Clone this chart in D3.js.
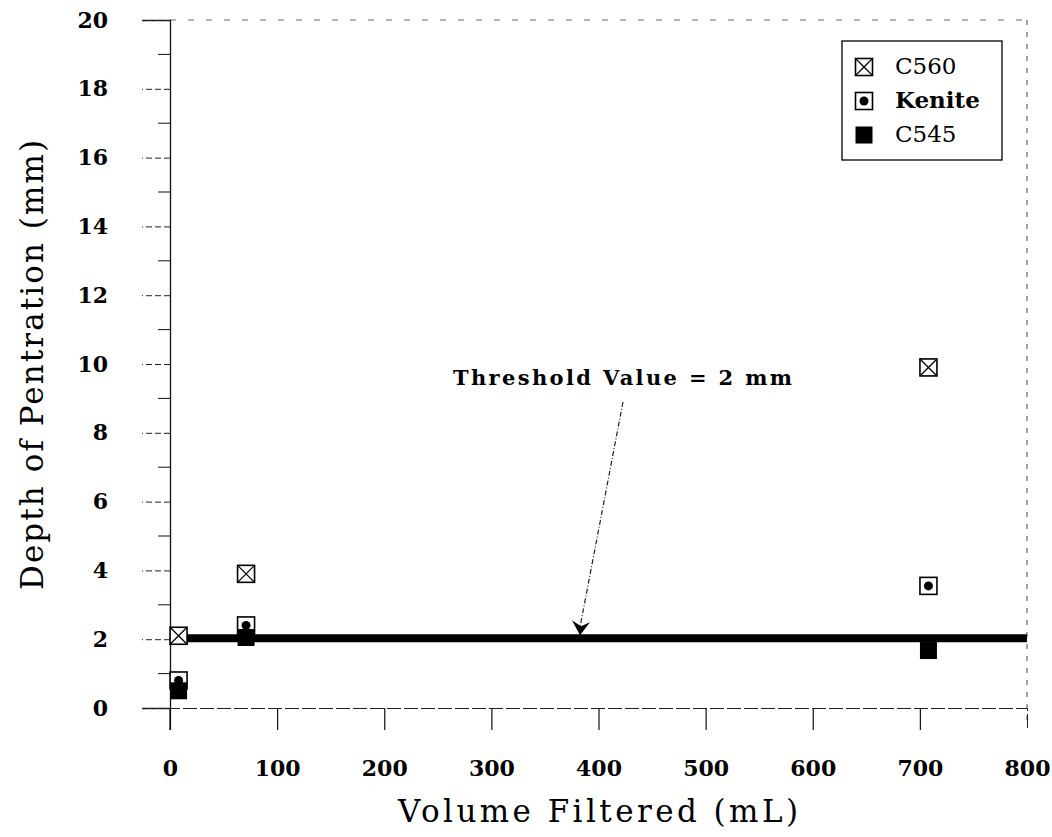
<!DOCTYPE html>
<html><head><meta charset="utf-8">
<script src="https://cdn.jsdelivr.net/npm/d3@7"></script>
<style>body{margin:0;background:#fff}svg{display:block}</style>
</head><body>
<svg id="c" width="1052" height="837"></svg>
<script>
const volumes = [8, 71, 708];
const c560 = [2.1, 3.9, 9.9];
const kenite = [0.8, 2.4, 3.55];
const c545 = [0.5, 2.05, 1.67];
const threshold = 2;
const xTicks = [0, 100, 200, 300, 400, 500, 600, 700, 800];
const yTicks = [0, 2, 4, 6, 8, 10, 12, 14, 16, 18, 20];
const seriesNames = ["C560", "Kenite", "C545"];
const font = "'DejaVu Serif', 'Liberation Serif', serif";

const svg = d3.select("#c");
const L = 170, R = 1027, T = 20, B = 708;
const x = d3.scaleLinear().domain([0, 800]).range([L, R]);
const y = d3.scaleLinear().domain([0, 20]).range([B, T]);

// frame top/right (faint dashed)
svg.append("line").attr("x1", L).attr("x2", R).attr("y1", T).attr("y2", T)
  .attr("stroke", "#666").attr("stroke-width", 1).attr("stroke-dasharray", "6,12");
svg.append("line").attr("x1", R).attr("x2", R).attr("y1", T).attr("y2", B + 12)
  .attr("stroke", "#444").attr("stroke-width", 1).attr("stroke-dasharray", "5,7");

// x axis
const xAxis = d3.axisBottom(x).tickValues(xTicks).tickSize(22).tickPadding(30).tickFormat(d3.format("d"));
const gx = svg.append("g").attr("transform", `translate(0,${B})`).call(xAxis);
gx.select(".domain").attr("stroke", "#222").attr("stroke-dasharray", "14,3");
gx.selectAll(".tick line").attr("stroke", "#111").attr("stroke-width", 1.2);
gx.selectAll(".tick").filter(d => d === 800).select("line").attr("stroke", "none");
gx.selectAll("text").attr("font-family", font).attr("font-weight", "bold")
  .attr("font-size", 22).attr("fill", "#000");

// y axis major
const yAxis = d3.axisLeft(y).tickValues(yTicks).tickSize(28).tickPadding(34).tickFormat(d3.format("d"));
const gy = svg.append("g").attr("transform", `translate(${L},0)`).call(yAxis);
gy.select(".domain").attr("stroke", "#111").attr("stroke-width", 1.3);
gy.selectAll(".tick line").attr("stroke", "#222").attr("stroke-dasharray", "6,3");
gy.selectAll("text").attr("font-family", font).attr("font-weight", "bold")
  .attr("font-size", 22).attr("fill", "#000");
svg.append("line").attr("x1", L).attr("x2", L).attr("y1", B).attr("y2", B + 22).attr("stroke", "#111").attr("stroke-width", 1.3);
// minor y ticks
const minor = d3.range(1, 20, 2);
svg.append("g").selectAll("line").data(minor).join("line")
  .attr("x1", L - 12).attr("x2", L).attr("y1", d => y(d)).attr("y2", d => y(d))
  .attr("stroke", "#111");

// axis titles
svg.append("text").attr("x", 598).attr("y", 822).attr("text-anchor", "middle")
  .attr("font-family", font).attr("font-size", 31).attr("textLength", 400).attr("lengthAdjust", "spacing")
  .text("Volume Filtered (mL)");
svg.append("text").attr("transform", "translate(43,365) rotate(-90)").attr("text-anchor", "middle")
  .attr("font-family", font).attr("font-size", 31).attr("textLength", 450).attr("lengthAdjust", "spacing")
  .text("Depth of Pentration (mm)");

// threshold line
svg.append("line").attr("x1", x(0)).attr("x2", x(800)).attr("y1", y(threshold) - 1).attr("y2", y(threshold) - 1)
  .attr("stroke", "#000").attr("stroke-width", 8);

// annotation
svg.append("text").attr("x", 453).attr("y", 385).attr("text-anchor", "start")
  .attr("font-family", font).attr("font-weight", "bold").attr("font-size", 21)
  .attr("textLength", 339).attr("lengthAdjust", "spacing")
  .text("Threshold Value = " + threshold + " mm");
const ax = 580, ay = y(threshold) - 4;
svg.append("line").attr("x1", 623).attr("y1", 402).attr("x2", ax).attr("y2", ay - 8)
  .attr("stroke", "#222").attr("stroke-width", 1.2).attr("stroke-dasharray", "5,2,1,2");
svg.append("path").attr("d", `M${ax},${ay} L${ax - 8},${ay - 15} L${ax + 1},${ay - 9} L${ax + 10},${ay - 13} Z`)
  .attr("fill", "#000");

// markers
const S = 17;
function drawMarker(g, type, cx, cy) {
  const h = S / 2;
  if (type === 0) {
    g.append("rect").attr("x", cx - h).attr("y", cy - h).attr("width", S).attr("height", S)
      .attr("fill", "#fff").attr("stroke", "#000").attr("stroke-width", 1.6);
    g.append("path").attr("d", `M${cx - h},${cy - h}L${cx + h},${cy + h}M${cx + h},${cy - h}L${cx - h},${cy + h}`)
      .attr("stroke", "#000").attr("stroke-width", 1.3);
  } else if (type === 1) {
    g.append("rect").attr("x", cx - h).attr("y", cy - h).attr("width", S).attr("height", S)
      .attr("fill", "#fff").attr("stroke", "#000").attr("stroke-width", 1.6);
    g.append("circle").attr("cx", cx).attr("cy", cy).attr("r", 4.5).attr("fill", "#000");
  } else {
    g.append("rect").attr("x", cx - h).attr("y", cy - h).attr("width", S).attr("height", S)
      .attr("fill", "#000");
  }
}
const series = [c560, kenite, c545];
const mg = svg.append("g");
series.forEach((vals, si) => {
  vals.forEach((v, i) => drawMarker(mg, si, x(volumes[i]), y(v)));
});

// legend
svg.append("rect").attr("x", 842).attr("y", 41).attr("width", 160).attr("height", 119)
  .attr("fill", "#fff").attr("stroke", "#000").attr("stroke-width", 1.3);
const lg = svg.append("g");
seriesNames.forEach((n, i) => {
  const cy = 67 + i * 34;
  drawMarker(lg, i, 864, cy);
  lg.append("text").attr("x", 895).attr("y", cy + 7).attr("font-family", font)
    .attr("font-size", 23).attr("font-weight", i === 1 ? "bold" : "normal")
    .text(n);
});
</script>
</body></html>
